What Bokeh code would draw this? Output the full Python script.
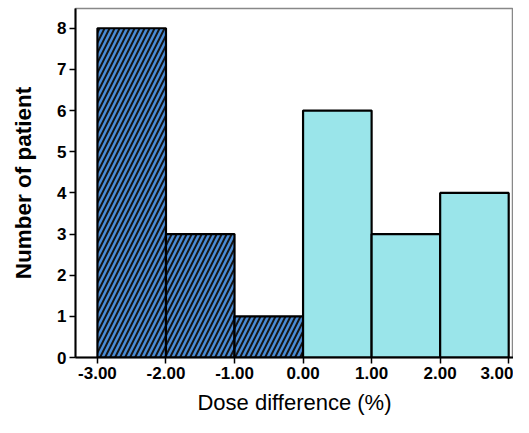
from bokeh.plotting import figure
from bokeh.models import ColumnDataSource, Range1d, FixedTicker
from bokeh.embed import file_html
from bokeh.resources import INLINE

# Histogram data
neg_left = [-3.0, -2.0, -1.0]
neg_right = [-2.0, -1.0, 0.0]
neg_counts = [8, 3, 1]
pos_left = [0.0, 1.0, 2.0]
pos_right = [1.0, 2.0, 3.0]
pos_counts = [6, 3, 4]
x_ticks = [-3, -2, -1, 0, 1, 2, 3]
x_tick_labels = ["-3.00", "-2.00", "-1.00", "0.00", "1.00", "2.00", "3.00"]
y_ticks = [0, 1, 2, 3, 4, 5, 6, 7, 8]

FONT = "Liberation Sans"

p = figure(width=513, height=417, output_backend="svg", toolbar_location=None,
           x_range=Range1d(-3.32, 3.07), y_range=Range1d(0, 8.48),
           min_border_left=75, min_border_right=0, min_border_top=8, min_border_bottom=57)

neg = ColumnDataSource(dict(left=neg_left, right=neg_right, top=neg_counts, bottom=[0]*3))
pos = ColumnDataSource(dict(left=pos_left, right=pos_right, top=pos_counts, bottom=[0]*3))

p.quad(left="left", right="right", top="top", bottom="bottom", source=neg,
       fill_color="#4a8cd6", line_color="black", line_width=2.2,
       hatch_pattern="/", hatch_color="#151515", hatch_scale=10, hatch_weight=2)
p.quad(left="left", right="right", top="top", bottom="bottom", source=pos,
       fill_color="#9ae5ea", line_color="black", line_width=2.2)

p.xgrid.visible = False
p.ygrid.visible = False
p.outline_line_color = "#888888"
p.outline_line_width = 1.5

p.xaxis.ticker = FixedTicker(ticks=x_ticks)
p.xaxis.major_label_overrides = {t: l for t, l in zip(x_ticks, x_tick_labels)}
p.yaxis.ticker = FixedTicker(ticks=y_ticks)

for ax in (p.xaxis, p.yaxis):
    ax.axis_line_color = "black"
    ax.axis_line_width = 2
    ax.major_tick_line_color = "black"
    ax.major_tick_line_width = 1.5
    ax.major_tick_out = 6
    ax.major_tick_in = 0
    ax.minor_tick_line_color = None
    ax.major_label_text_font = FONT
    ax.major_label_text_font_style = "bold"
    ax.major_label_text_font_size = "17px"
    ax.major_label_text_color = "black"

p.xaxis.axis_label = "Dose difference (%)"
p.xaxis.axis_label_text_font = FONT
p.xaxis.axis_label_text_font_style = "normal"
p.xaxis.axis_label_text_font_size = "22px"
p.xaxis.axis_label_text_color = "black"
p.xaxis.axis_label_standoff = 8
p.xaxis.major_label_standoff = 3

p.yaxis.axis_label = "Number of patient"
p.yaxis.axis_label_text_font = FONT
p.yaxis.axis_label_text_font_style = "bold"
p.yaxis.axis_label_text_font_size = "22.5px"
p.yaxis.axis_label_text_color = "black"
p.yaxis.axis_label_standoff = 18
p.yaxis.major_label_standoff = 3

open("out.html", "w").write(file_html(p, INLINE))
